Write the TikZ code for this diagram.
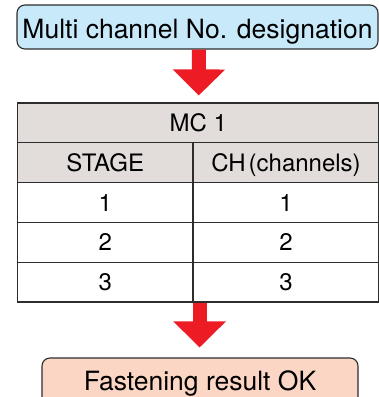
\documentclass[tikz,border=0pt]{standalone}
\usepackage{fontspec}
\setmainfont{TeX Gyre Heros}
\usetikzlibrary{arrows.meta,calc}
\definecolor{boxblue}{RGB}{200,233,250}
\definecolor{boxpeach}{RGB}{252,214,196}
\definecolor{headgray}{RGB}{226,221,219}
\definecolor{linec}{RGB}{45,45,45}
\definecolor{arrowred}{RGB}{237,28,36}
\begin{document}
\begin{tikzpicture}[x=1pt,y=-1pt,
  roundbox/.style={draw=linec, line width=1.1pt, rounded corners=8pt, inner sep=0pt, text depth=0pt},
  cell/.style={draw=linec, line width=1.2pt, minimum height=39.8pt, inner sep=0pt,
    text height=17pt, text depth=0pt, font=\fontsize{24}{24}\selectfont},
  headcell/.style={cell, fill=headgray},
  bigarrow/.style={draw=arrowred, line width=14pt,
    -{Triangle[width=51pt,length=26pt,fill=arrowred]}}
]
\useasboundingbox (0,0) rectangle (379,397);
\clip (0,0) rectangle (379,397);
% top box
\node[roundbox, fill=boxblue, minimum width=361pt, minimum height=44pt,
  text height=22pt, font=\fontsize{26.5}{26.5}\selectfont] (top) at (197.5,27)
  {Multi channel No. designation};
% table
\node[headcell, minimum width=361.5pt] (mc) at (198.25,122.9) {MC 1};
\node[headcell, minimum width=175.5pt] (stage) at (105.25,162.7) {STAGE};
\node[headcell, minimum width=186pt] (ch) at (286,162.7) {CH\kern3pt(channels)};
\node[cell, minimum width=175.5pt] (s1) at (105.25,202.5) {1};
\node[cell, minimum width=186pt] (c1) at (286,202.5) {1};
\node[cell, minimum width=175.5pt] (s2) at (105.25,242.3) {2};
\node[cell, minimum width=186pt] (c2) at (286,242.3) {2};
\node[cell, minimum width=175.5pt] (s3) at (105.25,282.1) {3};
\node[cell, minimum width=186pt] (c3) at (286,282.1) {3};
% bottom box
\node[roundbox, fill=boxpeach, minimum width=316pt, minimum height=47pt,
  text height=19pt, text depth=2pt, font=\fontsize{26.5}{26.5}\selectfont] (bottom) at (200,381.5)
  {Fastening result OK};
% arrows
\draw[bigarrow, shorten >=7pt] ([xshift=1.5pt]top.south) -- ([xshift=0.5pt]mc.north);
\draw[bigarrow, shorten >=10pt] ([xshift=6pt]s3.south east) -- ([xshift=6pt]s3.south east |- bottom.north);
\end{tikzpicture}
\end{document}
